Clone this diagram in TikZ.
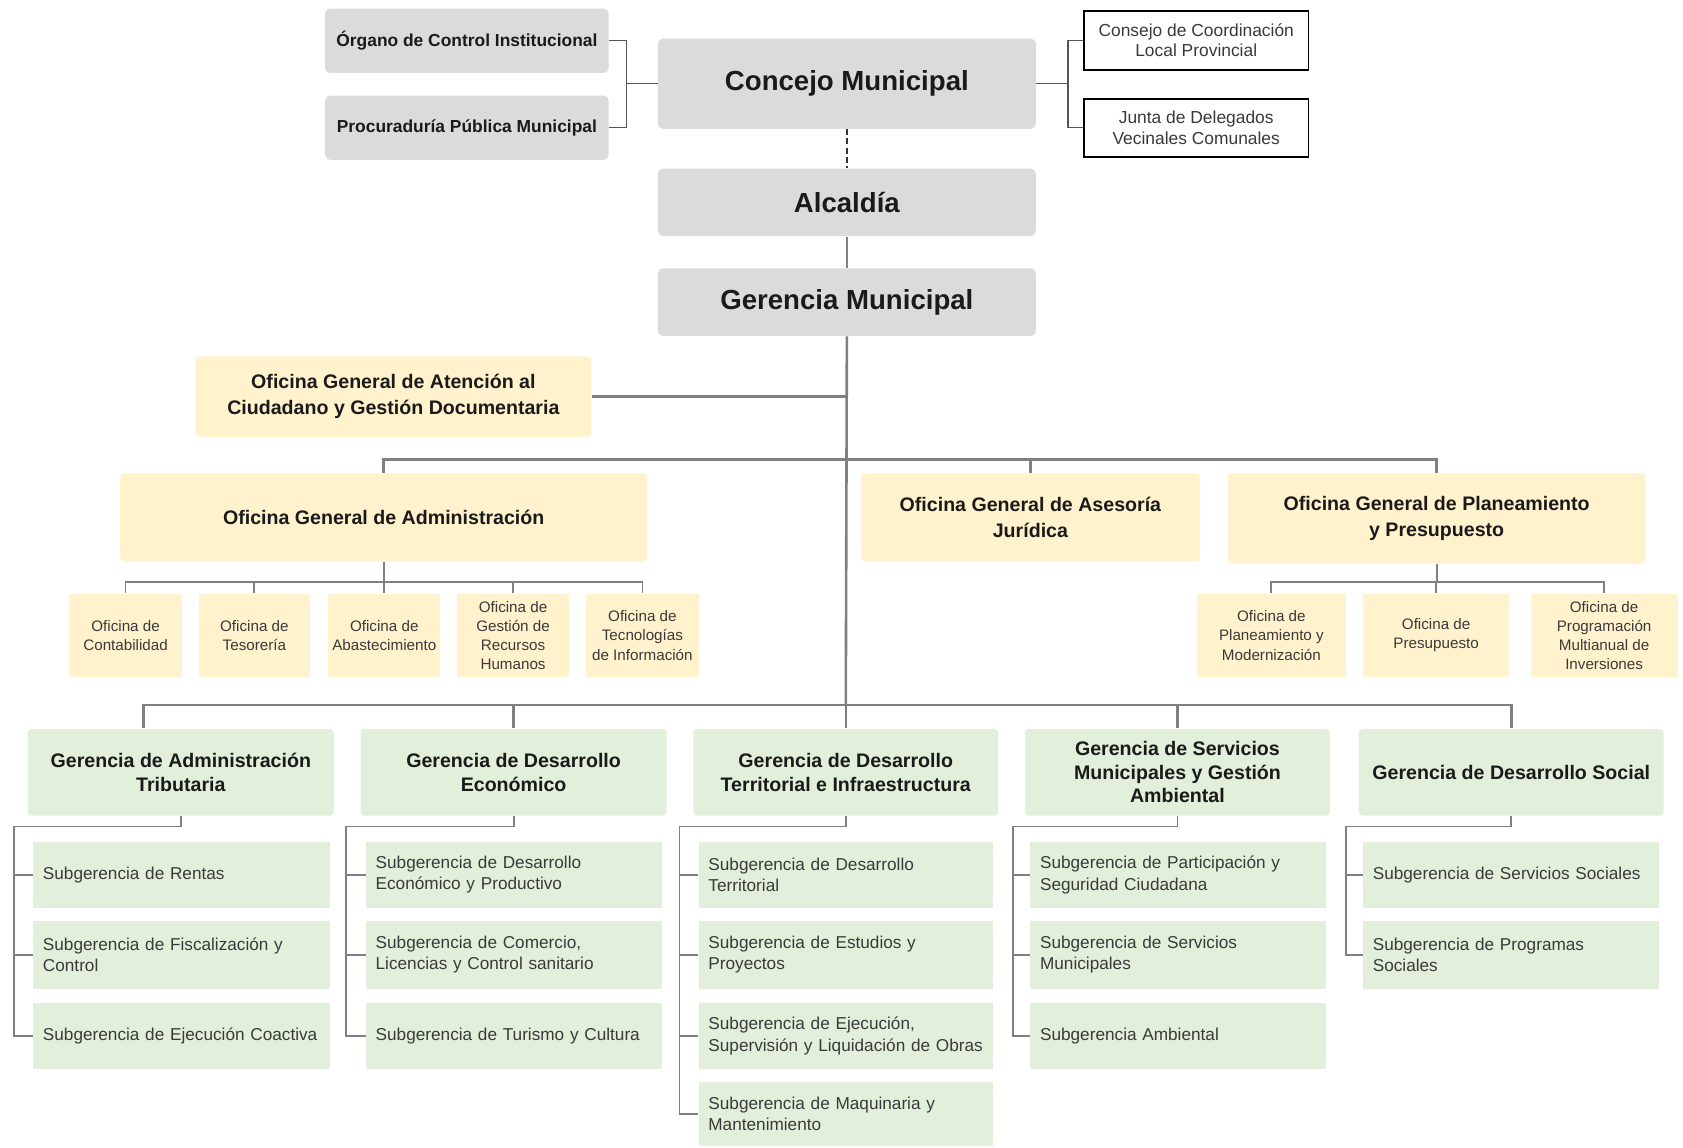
\documentclass[tikz,border=0pt]{standalone}
\usepackage{fontspec}
\setmainfont{Liberation Sans}
\usetikzlibrary{calc}
\definecolor{gfill}{HTML}{DBDBDB}
\definecolor{yfill}{HTML}{FFF2CC}
\definecolor{grfill}{HTML}{E2EFDA}
\definecolor{lcol}{HTML}{808080}
\definecolor{hcol}{HTML}{555555}
\definecolor{tcol}{HTML}{1A1A1A}
\definecolor{t2col}{HTML}{3A3A3A}
\newcommand\upx{0.53667pt}
\newcommand\bx[7]{\node[#2, minimum width={(#5-#3)*\upx}, minimum height={(#6-#4)*\upx}, inner sep=0pt] (#1) at ({(#3+#5)/2},{(#4+#6)/2}) {#7};}
\newcommand\cbx[6]{\pgfmathsetlengthmacro\tw{(#4-#2-18)*\upx}\node[childbox, text width=\tw, minimum height={(#5-#3)*\upx}] (#1) at ({(#2+#4)/2},{(#3+#5)/2}) {#6};}
\begin{document}
\begin{tikzpicture}[x=0.53667pt,y=-0.53667pt,
  gbig/.style={fill=gfill, rounded corners=2.5pt, text=tcol, align=center, font=\fontsize{13.8}{16}\selectfont\bfseries},
  gsmall/.style={fill=gfill, rounded corners=2.5pt, text=tcol, align=center, font=\fontsize{8.7}{10}\selectfont\bfseries},
  wbox/.style={draw=black, line width=0.9pt, fill=white, text=t2col, align=center, font=\fontsize{8.7}{10.2}\selectfont},
  ybox/.style={fill=yfill, rounded corners=2pt, text=tcol, align=center, font=\fontsize{9.8}{12.9}\selectfont\bfseries},
  ysmall/.style={fill=yfill, text=t2col, align=center, font=\fontsize{7.6}{9.6}\selectfont},
  grbox/.style={fill=grfill, rounded corners=2pt, text=tcol, align=center, font=\fontsize{9.8}{11.8}\selectfont\bfseries},
  childbox/.style={fill=grfill, inner xsep={9*\upx}, inner ysep=0pt, align=left, text=t2col, font=\fontsize{8.6}{10.7}\selectfont},
  thickln/.style={draw=lcol, line width=1.3pt},
  thinln/.style={draw=lcol, line width=0.9pt},
  hairln/.style={draw=hcol, line width=0.6pt},
  dashln/.style={draw=black!80, line width=0.9pt, dash pattern=on 3pt off 1.6pt}
]
\useasboundingbox[fill=white] (0,0) rectangle (1568,1069);

% top gray boxes
\bx{org}{gsmall}{303}{8}{567}{68}{Órgano de Control Institucional}
\bx{proc}{gsmall}{303}{89}{567}{149}{Procuraduría Pública Municipal}
\bx{concejo}{gbig}{613}{36}{965}{120}{Concejo Municipal}
\bx{alc}{gbig}{613}{157}{965}{220}{Alcaldía}
\bx{gm}{gbig}{613}{250}{965}{313}{Gerencia Municipal}
\bx{consejo}{wbox}{1010}{10}{1219}{65}{Consejo de Coordinación\\Local Provincial}
\bx{junta}{wbox}{1010}{92}{1219}{146}{Junta de Delegados\\Vecinales Comunales}

% yellow boxes
\bx{ogac}{ybox}{182}{332}{551}{407}{Oficina General de Atención al\\Ciudadano y Gestión Documentaria}
\bx{oga}{ybox}{112}{441}{603}{523}{Oficina General de Administración}
\bx{ogaj}{ybox}{802}{441}{1118}{523}{Oficina General de Asesoría\\Jurídica}
\bx{ogpp}{ybox}{1144}{441}{1533}{525}{Oficina General de Planeamiento\\y Presupuesto}

\bx{a1}{ysmall}{64}{553}{170}{631}{Oficina de\\Contabilidad}
\bx{a2}{ysmall}{185}{553}{289}{631}{Oficina de\\Tesorería}
\bx{a3}{ysmall}{306}{553}{410}{631}{Oficina de\\Abastecimiento}
\bx{a4}{ysmall}{426}{553}{530}{631}{Oficina de\\Gestión de\\Recursos\\Humanos}
\bx{a5}{ysmall}{546}{553}{651}{631}{Oficina de\\Tecnologías\\de Información}
\bx{p1}{ysmall}{1115}{553}{1254}{631}{Oficina de\\Planeamiento y\\Modernización}
\bx{p2}{ysmall}{1270}{553}{1406}{631}{Oficina de\\Presupuesto}
\bx{p3}{ysmall}{1426}{553}{1563}{631}{Oficina de\\Programación\\Multianual de\\Inversiones}

% green gerencias
\bx{g1}{grbox}{26}{679}{311}{760}{Gerencia de Administración\\Tributaria}
\bx{g2}{grbox}{336}{679}{621}{760}{Gerencia de Desarrollo\\Económico}
\bx{g3}{grbox}{646}{679}{930}{760}{Gerencia de Desarrollo\\Territorial e Infraestructura}
\bx{g4}{grbox}{955}{679}{1239}{760}{Gerencia de Servicios\\Municipales y Gestión\\Ambiental}
\bx{g5}{grbox}{1266}{679}{1550}{760}{Gerencia de Desarrollo Social}

% children
\cbx{c11}{31}{784}{307}{846}{Subgerencia de Rentas}
\cbx{c12}{31}{858}{307}{921}{Subgerencia de Fiscalización y\\Control}
\cbx{c13}{31}{934}{307}{996}{Subgerencia de Ejecución Coactiva}

\cbx{c21}{341}{784}{617}{846}{Subgerencia de Desarrollo\\Económico y Productivo}
\cbx{c22}{341}{858}{617}{921}{Subgerencia de Comercio,\\Licencias y Control sanitario}
\cbx{c23}{341}{934}{617}{996}{Subgerencia de Turismo y Cultura}

\cbx{c31}{651}{784}{925}{846}{Subgerencia de Desarrollo\\Territorial}
\cbx{c32}{651}{858}{925}{921}{Subgerencia de Estudios y\\Proyectos}
\cbx{c33}{651}{934}{925}{996}{Subgerencia de Ejecución,\\Supervisión y Liquidación de Obras}
\cbx{c34}{651}{1008}{925}{1068}{Subgerencia de Maquinaria y\\Mantenimiento}

\cbx{c41}{960}{784}{1235}{846}{Subgerencia de Participación y\\Seguridad Ciudadana}
\cbx{c42}{960}{858}{1235}{921}{Subgerencia de Servicios\\Municipales}
\cbx{c43}{960}{934}{1235}{996}{Subgerencia Ambiental}

\cbx{c51}{1270}{784}{1546}{846}{Subgerencia de Servicios Sociales}
\cbx{c52}{1270}{858}{1546}{921}{Subgerencia de Programas\\Sociales}

% top connectors
\coordinate (bl) at (584,78);
\draw[hairln] (org.east) -| (bl) |- (proc.east);
\draw[hairln] (bl) -- (concejo.west);
\coordinate (br) at (995,78);
\draw[hairln] (concejo.east) -- (br);
\draw[hairln] (consejo.west) -| (br) |- (junta.west);
\draw[dashln] (concejo.south) -- (alc.north);
\draw[thickln] (alc.south) -- (gm.north);

% trunk
\coordinate (t1) at (788,657);
\draw[thickln] (gm.south) -- (t1);
\draw[thickln] (ogac.east) -- (ogac.east -| gm.south);
\coordinate (b1) at (788,428);
\draw[thickln] (oga.north) |- (b1) -| (ogpp.north);
\draw[thickln] (ogaj.north) -- (ogaj.north |- b1);

% sub-buses
\coordinate (b2) at (357.5,542);
\draw[thinln] (oga.south) -- (b2);
\draw[thinln] (a1.north) |- (b2) -| (a5.north);
\foreach \n in {a2,a3,a4} \draw[thinln] (\n.north) -- (\n.north |- b2);
\coordinate (b3) at (1338.5,542);
\draw[thinln] (ogpp.south) -- (b3);
\draw[thinln] (p1.north) |- (b3) -| (p3.north);
\draw[thinln] (p2.north) -- (p2.north |- b3);

% bottom bus
\coordinate (g1top) at ($(g1.north west)!0.379!(g1.north east)$);
\draw[thickln] (g1top) |- (t1) -| (g5.north);
\foreach \n in {g2,g3,g4} \draw[thickln] (\n.north) -- (\n.north |- t1);

% child brackets
\coordinate (h1) at (13,770);
\draw[thinln] (g1.south) |- (h1) |- (c13.west);
\foreach \c in {c11,c12} \draw[thinln] (h1 |- \c.west) -- (\c.west);
\coordinate (h2) at (322,770);
\draw[thinln] (g2.south) |- (h2) |- (c23.west);
\foreach \c in {c21,c22} \draw[thinln] (h2 |- \c.west) -- (\c.west);
\coordinate (h3) at (633,770);
\draw[thinln] (g3.south) |- (h3) |- (c34.west);
\foreach \c in {c31,c32,c33} \draw[thinln] (h3 |- \c.west) -- (\c.west);
\coordinate (h4) at (944,770);
\draw[thinln] (g4.south) |- (h4) |- (c43.west);
\foreach \c in {c41,c42} \draw[thinln] (h4 |- \c.west) -- (\c.west);
\coordinate (h5) at (1254,770);
\draw[thinln] (g5.south) |- (h5) |- (c52.west);
\foreach \c in {c51} \draw[thinln] (h5 |- \c.west) -- (\c.west);
\end{tikzpicture}
\end{document}
